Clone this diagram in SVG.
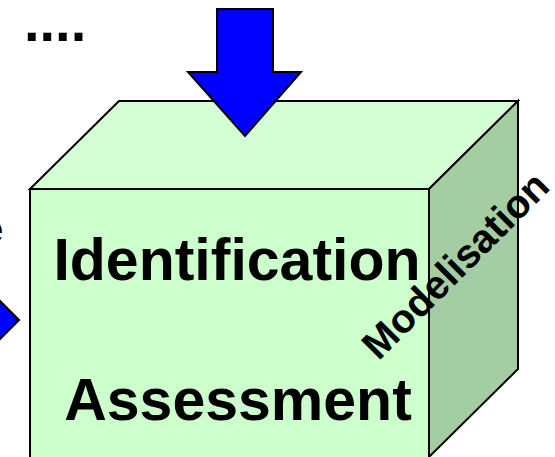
<svg xmlns="http://www.w3.org/2000/svg" width="555" height="457" viewBox="0 0 555 457">
<style>
.edge{stroke:#000;stroke-width:2;stroke-linejoin:miter}
.arrow{fill:#0000FF;stroke:#000;stroke-width:2}
.t{font-family:"Liberation Sans",Arial,sans-serif;font-weight:bold;fill:#000}
</style>
<rect width="555" height="457" fill="#fff"/>
<g id="cube">
<polygon class="edge" fill="#D4FFD4" points="30,189 119,101 518,101 429,189"/>
<polygon class="edge" fill="#A4CDA4" points="429,189 518,101 518,369 429,457"/>
<rect class="edge" fill="#CCFFCC" x="30" y="189" width="399" height="280"/>
<text class="t" x="237" y="280" font-size="59" text-anchor="middle">Identification</text>
<text class="t" x="238" y="420" font-size="59" text-anchor="middle">Assessment</text>
<text class="t" font-size="40" text-anchor="middle" transform="translate(465,275) rotate(-45)">Modelisation</text>
</g>
<g id="connectors">
<polygon class="arrow" points="217,9 273,9 273,72 301,72 245,136 188,72 217,72"/>
<polygon class="arrow" points="-40,261 19,320 -40,379"/>
</g>
<g id="labels">
<text class="t" x="24" y="41" font-size="56">....</text>
<text class="t" x="-19" y="243" font-size="40">e</text>
</g>
</svg>
